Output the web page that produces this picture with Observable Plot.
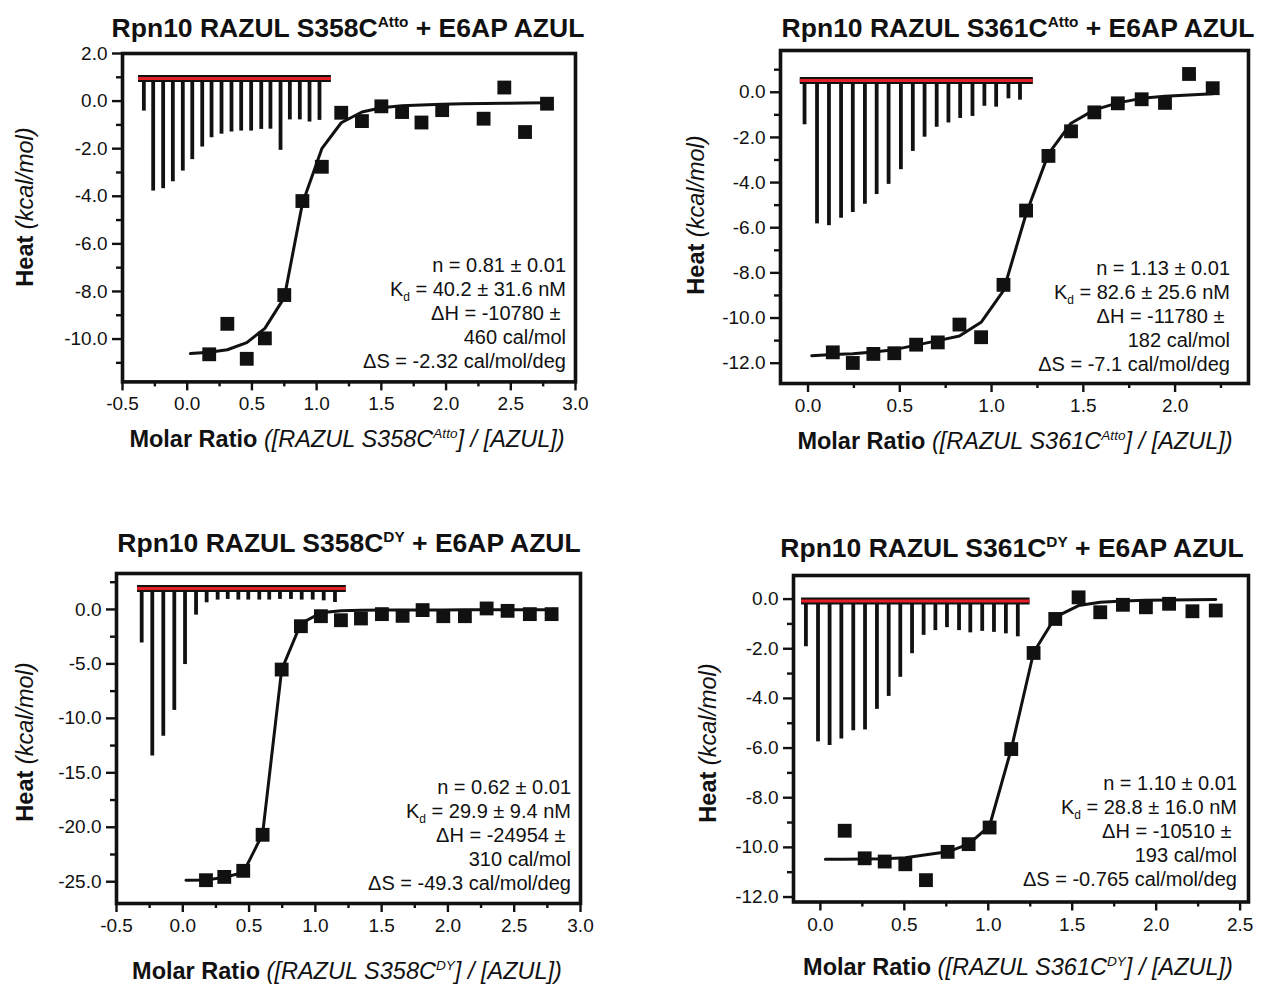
<!DOCTYPE html>
<html><head><meta charset="utf-8">
<script src="https://cdn.jsdelivr.net/npm/d3@7"></script>
<script src="https://cdn.jsdelivr.net/npm/@observablehq/plot@0.6"></script>
<style>
body{margin:0;background:#fff;}
#root{position:relative;width:1262px;height:985px;font-family:"Liberation Sans",Arial,Helvetica,sans-serif;color:#111;overflow:hidden;background:#fff}
.abs{position:absolute;white-space:pre;line-height:1}
.title{font-weight:bold;font-size:26.5px;transform:translate(-50%,-50%)}
.xlab{font-size:23.5px;transform:translate(-50%,-50%)}
.ylab{font-size:23.5px;transform:translate(-50%,-50%) rotate(-90deg)}
.b{font-weight:bold}
.it{font-style:italic}
.sup{font-size:0.58em;position:relative;top:-0.66em;line-height:0}
.sub{font-size:0.6em;position:relative;top:0.45em;line-height:0}
.ann{font-size:20px;text-align:right;transform:translate(-100%,0)}
.ann div{height:24px;line-height:24px}
.plot{position:absolute}
</style></head><body><div id="root"></div>
<script>
// ---------- Panel A: Rpn10 RAZUL S358C(Atto) + E6AP AZUL ----------
const aRatio = [0.17, 0.31, 0.46, 0.60, 0.75, 0.89, 1.04, 1.19, 1.35, 1.50, 1.66, 1.81, 1.97, 2.29, 2.45, 2.61, 2.78];
const aHeat  = [-10.64, -9.36, -10.83, -9.97, -8.15, -4.20, -2.76, -0.49, -0.84, -0.22, -0.46, -0.90, -0.38, -0.74, 0.57, -1.30, -0.11];
const aFitRatio = [0.025, 0.17, 0.31, 0.46, 0.60, 0.75, 0.89, 1.04, 1.19, 1.35, 1.50, 1.66, 1.81, 1.97, 2.13, 2.29, 2.45, 2.61, 2.78];
const aFitHeat  = [-10.61, -10.55, -10.45, -10.15, -9.55, -8.26, -4.3, -2.0, -0.91, -0.46, -0.28, -0.2, -0.16, -0.13, -0.11, -0.10, -0.09, -0.08, -0.07];
const aSpikeRatio = [-0.335, -0.263, -0.186, -0.111, -0.034, 0.039, 0.116, 0.188, 0.265, 0.342, 0.417, 0.494, 0.572, 0.643, 0.721, 0.793, 0.870, 0.945, 1.022];
const aSpikeTip   = [-0.42, -3.78, -3.68, -3.39, -2.94, -2.46, -1.93, -1.54, -1.39, -1.30, -1.26, -1.26, -1.19, -1.18, -2.07, -0.79, -0.79, -0.88, -0.81];
const aTrace = {base: 0.95, start: -0.38, end: 1.11};
const aStats = ["n = 0.81 ± 0.01", "K|d| = 40.2 ± 31.6 nM", "ΔH = -10780 ± ", "460 cal/mol", "ΔS = -2.32 cal/mol/deg"];

// ---------- Panel B: Rpn10 RAZUL S361C(Atto) + E6AP AZUL ----------
const bRatio = [0.135, 0.244, 0.356, 0.470, 0.589, 0.707, 0.825, 0.943, 1.065, 1.188, 1.310, 1.433, 1.560, 1.688, 1.818, 1.945, 2.076, 2.205];
const bHeat  = [-11.52, -11.99, -11.59, -11.56, -11.18, -11.08, -10.29, -10.85, -8.53, -5.24, -2.82, -1.73, -0.89, -0.49, -0.31, -0.47, 0.81, 0.18];
const bFitRatio = [0.02, 0.135, 0.244, 0.356, 0.470, 0.589, 0.707, 0.825, 0.943, 1.065, 1.188, 1.310, 1.433, 1.560, 1.688, 1.818, 1.945, 2.076, 2.205];
const bFitHeat  = [-11.67, -11.62, -11.58, -11.5, -11.4, -11.2, -11.0, -10.8, -10.19, -8.79, -5.39, -2.73, -1.37, -0.78, -0.47, -0.27, -0.18, -0.12, -0.07];
const bSpikeRatio = [-0.019, 0.049, 0.114, 0.180, 0.244, 0.310, 0.374, 0.439, 0.506, 0.571, 0.635, 0.701, 0.765, 0.829, 0.896, 0.961, 1.025, 1.092, 1.155];
const bSpikeTip   = [-1.44, -5.83, -5.91, -5.58, -5.33, -4.96, -4.53, -4.08, -3.43, -2.62, -1.99, -1.55, -1.36, -1.16, -1.07, -0.62, -0.66, -0.29, -0.35];
const bTrace = {base: 0.52, start: -0.045, end: 1.225};
const bStats = ["n = 1.13 ± 0.01", "K|d| = 82.6 ± 25.6 nM", "ΔH = -11780 ± ", "182 cal/mol", "ΔS = -7.1 cal/mol/deg"];

// ---------- Panel C: Rpn10 RAZUL S358C(DY) + E6AP AZUL ----------
const cRatio = [0.175, 0.313, 0.456, 0.602, 0.746, 0.891, 1.042, 1.193, 1.344, 1.502, 1.658, 1.809, 1.965, 2.128, 2.292, 2.450, 2.618, 2.782];
const cHeat  = [-24.86, -24.56, -24.0, -20.69, -5.52, -1.54, -0.62, -0.99, -0.83, -0.43, -0.59, -0.06, -0.62, -0.62, 0.09, -0.13, -0.43, -0.43];
const cFitRatio = [0.024, 0.175, 0.313, 0.456, 0.602, 0.746, 0.891, 1.042, 1.193, 1.344, 1.502, 1.658, 1.809, 1.965, 2.128, 2.292, 2.450, 2.618, 2.782];
const cFitHeat  = [-24.86, -24.84, -24.6, -24.16, -20.63, -5.52, -1.29, -0.31, -0.13, -0.08, -0.06, -0.05, -0.04, -0.04, -0.03, -0.03, -0.03, -0.02, -0.02];
const cSpikeRatio = [-0.31, -0.23, -0.147, -0.064, 0.017, 0.10, 0.18, 0.263, 0.339, 0.419, 0.494, 0.577, 0.652, 0.733, 0.816, 0.897, 0.98, 1.063, 1.148];
const cSpikeTip   = [-3.08, -13.46, -11.64, -9.27, -5.06, -0.52, 0.61, 0.86, 0.92, 0.86, 0.86, 0.86, 0.86, 0.92, 0.92, 0.86, 0.86, 0.79, 0.64];
const cTrace = {base: 1.93, start: -0.345, end: 1.23};
const cStats = ["n = 0.62 ± 0.01", "K|d| = 29.9 ± 9.4 nM", "ΔH = -24954 ± ", "310 cal/mol", "ΔS = -49.3 cal/mol/deg"];

// ---------- Panel D: Rpn10 RAZUL S361C(DY) + E6AP AZUL ----------
const dRatio = [0.145, 0.264, 0.383, 0.506, 0.629, 0.758, 0.883, 1.008, 1.137, 1.27, 1.399, 1.538, 1.667, 1.802, 1.939, 2.077, 2.216, 2.355];
const dHeat  = [-9.33, -10.44, -10.57, -10.68, -11.32, -10.18, -9.87, -9.20, -6.04, -2.17, -0.80, 0.07, -0.53, -0.23, -0.33, -0.19, -0.49, -0.46];
const dFitRatio = [0.03, 0.145, 0.264, 0.383, 0.506, 0.629, 0.758, 0.883, 1.008, 1.137, 1.27, 1.399, 1.538, 1.667, 1.802, 1.939, 2.077, 2.216, 2.355];
const dFitHeat  = [-10.48, -10.48, -10.47, -10.46, -10.42, -10.3, -10.18, -9.87, -9.13, -6.04, -2.15, -0.73, -0.26, -0.13, -0.08, -0.05, -0.04, -0.03, -0.02];
const dSpikeRatio = [-0.086, -0.014, 0.055, 0.125, 0.196, 0.266, 0.337, 0.407, 0.476, 0.546, 0.615, 0.685, 0.754, 0.826, 0.893, 0.964, 1.034, 1.105, 1.176];
const dSpikeTip   = [-1.92, -5.75, -5.90, -5.64, -5.30, -5.27, -4.44, -3.92, -3.15, -2.20, -1.46, -1.27, -1.15, -1.27, -1.36, -1.30, -1.34, -1.40, -1.52];
const dTrace = {base: -0.08, start: -0.115, end: 1.246};
const dStats = ["n = 1.10 ± 0.01", "K|d| = 28.8 ± 16.0 nM", "ΔH = -10510 ± ", "193 cal/mol", "ΔS = -0.765 cal/mol/deg"];

// ---------- tick sets ----------
const xTicksWide = [-0.5, 0.0, 0.5, 1.0, 1.5, 2.0, 2.5, 3.0];
const xMinorWide = [-0.25, 0.25, 0.75, 1.25, 1.75, 2.25, 2.75];
const xTicksB = [0.0, 0.5, 1.0, 1.5, 2.0];
const xTicksD = [0.0, 0.5, 1.0, 1.5, 2.0, 2.5];
const xMinorNarrow = [0.25, 0.75, 1.25, 1.75, 2.25];
const yTicksA = [2, 0, -2, -4, -6, -8, -10];
const yMinorA = [1, -1, -3, -5, -7, -9, -11];
const yTicksB = [0, -2, -4, -6, -8, -10, -12];
const yMinorB = [1, -1, -3, -5, -7, -9, -11];
const yTicksC = [0, -5, -10, -15, -20, -25];
const yMinorC = [2.5, -2.5, -7.5, -12.5, -17.5, -22.5];
const yTicksD = [0, -2, -4, -6, -8, -10, -12];
const yMinorD = [-1, -3, -5, -7, -9, -11];

const titles = [
  {pre: "Rpn10 RAZUL S358C", sup: "Atto", post: " + E6AP AZUL"},
  {pre: "Rpn10 RAZUL S361C", sup: "Atto", post: " + E6AP AZUL"},
  {pre: "Rpn10 RAZUL S358C", sup: "DY", post: " + E6AP AZUL"},
  {pre: "Rpn10 RAZUL S361C", sup: "DY", post: " + E6AP AZUL"}
];

// ---------- layout (page pixels) ----------
const panels = [
  {frame: [122, 575, 52.6, 381], xDomain: [-0.5, 3.0], yDomain: [-11.8, 2.0],
   xTicks: xTicksWide, xMinor: xMinorWide, yTicks: yTicksA, yMinor: yMinorA,
   ratio: aRatio, heat: aHeat, fitRatio: aFitRatio, fitHeat: aFitHeat, spikeRatio: aSpikeRatio, spikeTip: aSpikeTip, trace: aTrace, stats: aStats,
   title: titles[0], titlePos: [348, 28], xlabPos: [347, 440], ylabPos: [26, 207], annPos: [566, 253]},
  {frame: [780, 1248, 50, 383], xDomain: [-0.15, 2.40], yDomain: [-12.9, 1.85],
   xTicks: xTicksB, xMinor: xMinorNarrow, yTicks: yTicksB, yMinor: yMinorB,
   ratio: bRatio, heat: bHeat, fitRatio: bFitRatio, fitHeat: bFitHeat, spikeRatio: bSpikeRatio, spikeTip: bSpikeTip, trace: bTrace, stats: bStats,
   title: titles[1], titlePos: [1018, 28], xlabPos: [1015, 442], ylabPos: [697, 215], annPos: [1230, 256]},
  {frame: [115.5, 579.5, 573, 903], xDomain: [-0.5, 3.0], yDomain: [-27.0, 3.3],
   xTicks: xTicksWide, xMinor: xMinorWide, yTicks: yTicksC, yMinor: yMinorC,
   ratio: cRatio, heat: cHeat, fitRatio: cFitRatio, fitHeat: cFitHeat, spikeRatio: cSpikeRatio, spikeTip: cSpikeTip, trace: cTrace, stats: cStats,
   title: titles[2], titlePos: [349, 543], xlabPos: [347, 972], ylabPos: [26, 742], annPos: [571, 775]},
  {frame: [793, 1248, 575, 901.5], xDomain: [-0.16, 2.55], yDomain: [-12.2, 0.95],
   xTicks: xTicksD, xMinor: xMinorNarrow, yTicks: yTicksD, yMinor: yMinorD,
   ratio: dRatio, heat: dHeat, fitRatio: dFitRatio, fitHeat: dFitHeat, spikeRatio: dSpikeRatio, spikeTip: dSpikeTip, trace: dTrace, stats: dStats,
   title: titles[3], titlePos: [1012, 548], xlabPos: [1018, 968], ylabPos: [709, 743], annPos: [1237, 771]}
];

const root = document.getElementById("root");
const INK = "#111";
const RED = "#e41f26";
const FONT = '"Liberation Sans", Arial, Helvetica, sans-serif';

function addDiv(cls, x, y, html) {
  const d = document.createElement("div");
  d.className = "abs " + cls;
  d.style.left = x + "px";
  d.style.top = y + "px";
  d.innerHTML = html;
  root.appendChild(d);
  return d;
}

function drawPanel(p) {
  const [x0, x1, y0, y1] = p.frame;
  const ML = 80, MR = 14, MT = 14, MB = 48;
  const points = p.ratio.map((x, i) => ({x, y: p.heat[i]}));
  const fit = p.fitRatio.map((x, i) => ({x, y: p.fitHeat[i]}));
  const spikes = p.spikeRatio.map((x, i) => ({x, tip: p.spikeTip[i]}));
  const trace = [{x: p.trace.start, y: p.trace.base}, {x: p.trace.end, y: p.trace.base}];
  const fmt = d => d.toFixed(1);
  const svg = Plot.plot({
    width: (x1 - x0) + ML + MR,
    height: (y1 - y0) + MT + MB,
    marginLeft: ML, marginRight: MR, marginTop: MT, marginBottom: MB,
    x: {domain: p.xDomain, label: null},
    y: {domain: p.yDomain, label: null},
    style: {fontFamily: FONT, fontSize: "19px", color: INK, background: "transparent", overflow: "visible"},
    marks: [
      Plot.line(trace, {x: "x", y: "y", stroke: INK, strokeWidth: 7, strokeLinecap: "butt"}),
      Plot.ruleX(spikes, {x: "x", y1: p.trace.base, y2: "tip", stroke: INK, strokeWidth: 3.8}),
      Plot.line(trace, {x: "x", y: "y", stroke: RED, strokeWidth: 3, strokeLinecap: "butt"}),
      Plot.line(fit, {x: "x", y: "y", stroke: INK, strokeWidth: 3}),
      Plot.dot(points, {x: "x", y: "y", symbol: "square", fill: INK, r: 7.8}),
      Plot.axisX({ticks: p.xMinor, tickSize: 5, fill: "none", stroke: INK, strokeWidth: 2.4, label: null}),
      Plot.axisX({ticks: p.xTicks, tickSize: 9, tickPadding: 6, tickFormat: fmt, fontSize: 19, fill: INK, stroke: INK, strokeWidth: 2.4, label: null}),
      Plot.axisY({ticks: p.yMinor, tickSize: 6, fill: "none", stroke: INK, strokeWidth: 2.4, label: null}),
      Plot.axisY({ticks: p.yTicks, tickSize: 10, tickPadding: 5, tickFormat: fmt, fontSize: 19, fill: INK, stroke: INK, strokeWidth: 2.4, label: null}),
      Plot.frame({stroke: INK, strokeWidth: 3.6})
    ]
  });
  svg.classList.add("plot");
  svg.style.left = (x0 - ML) + "px";
  svg.style.top = (y0 - MT) + "px";
  root.appendChild(svg);

  const t = p.title;
  addDiv("title", p.titlePos[0], p.titlePos[1], `${t.pre}<span class="sup">${t.sup}</span>${t.post}`);
  addDiv("xlab", p.xlabPos[0], p.xlabPos[1],
    `<span class="b">Molar Ratio</span> <span class="it">([RAZUL ${t.pre.slice(-5)}<span class="sup">${t.sup}</span>] / [AZUL])</span>`);
  addDiv("ylab", p.ylabPos[0], p.ylabPos[1], `<span class="b">Heat</span> <span class="it">(kcal/mol)</span>`);
  const lines = p.stats.map(s => {
    const parts = s.split("|");
    const html = parts.length === 3 ? `${parts[0]}<span class="sub">${parts[1]}</span>${parts[2]}` : s;
    return `<div>${html}</div>`;
  });
  addDiv("ann", p.annPos[0], p.annPos[1], lines.join(""));
}

panels.forEach(drawPanel);
</script></body></html>
